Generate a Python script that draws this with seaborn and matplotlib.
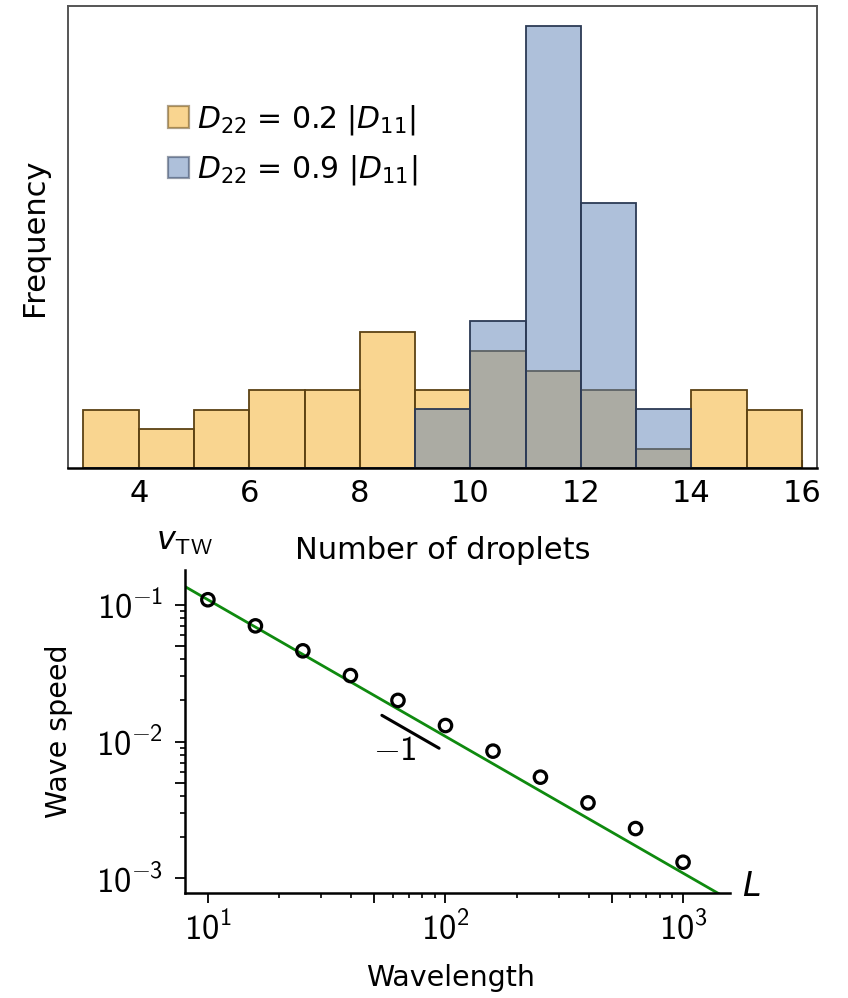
import numpy as np
import pandas as pd
import matplotlib
matplotlib.use("Agg")
import matplotlib.pyplot as plt
import matplotlib.ticker as mticker
from matplotlib.patches import Patch
import seaborn as sns

# --- histogram data: droplet-count bins and counts per run ---
bin_edges = list(range(3, 17))
low_counts = [3, 2, 3, 4, 4, 7, 4, 6, 5, 4, 1, 4, 3]          # bins 3..16
high_bins = [9, 10, 11, 12, 13]
high_counts = [2, 5, 15, 9, 2]
legend_labels = [r"$D_{22}$ = 0.2 $|D_{11}|$", r"$D_{22}$ = 0.9 $|D_{11}|$"]

# --- wave speed vs wavelength ---
wavelength = [10, 15.85, 25.1, 39.8, 63.1, 100, 158.5, 251, 398, 631, 1000]
wave_speed = [0.109, 0.0702, 0.0461, 0.0304, 0.0200, 0.0131,
              0.00851, 0.00549, 0.00356, 0.00231, 0.00131]
fit_coef = 1.09          # v = fit_coef / L
slope_ref = [54, 94]     # extent of the -1 slope marker
slope_coef = 0.84

sns.set_theme(style="ticks")
plt.rcParams["font.family"] = ["DejaVu Sans"]
plt.rcParams["text.color"] = "black"
plt.rcParams["axes.labelcolor"] = "black"
plt.rcParams["xtick.color"] = "black"
plt.rcParams["ytick.color"] = "black"
plt.rcParams["mathtext.fontset"] = "custom"
plt.rcParams["mathtext.rm"] = "cmss10"
plt.rcParams["mathtext.sf"] = "cmss10"
plt.rcParams["mathtext.it"] = "DejaVu Sans:italic"
plt.rcParams["mathtext.bf"] = "DejaVu Sans:bold"
plt.rcParams["mathtext.fallback"] = "cm"

fig = plt.figure(figsize=(8.48, 9.98), dpi=100)
ax1 = fig.add_axes([0.0802, 0.531, 0.8832, 0.463])
ax2 = fig.add_axes([0.218, 0.1052, 0.643, 0.3237])

c_low, c_high = "#F5AD23", "#5F83B7"
e_low, e_high = "#5c4214", "#2c3a55"

low_df = pd.DataFrame({"n": np.array(bin_edges[:-1]) + 0.5, "w": low_counts})
high_df = pd.DataFrame({"n": np.array(high_bins) + 0.5, "w": high_counts})

sns.histplot(data=low_df, x="n", weights="w", bins=bin_edges, stat="density",
             color=c_low, alpha=0.5, edgecolor=e_low, linewidth=1.3, ax=ax1)
sns.histplot(data=high_df, x="n", weights="w", bins=bin_edges, stat="density",
             color=c_high, alpha=0.5, edgecolor=e_high, linewidth=1.3, ax=ax1)

ax1.set_xlim(2.72, 16.27)
ax1.set_ylim(0, 0.4752)
ax1.set_yticks([])
ax1.set_xticks([4, 6, 8, 10, 12, 14, 16])
ax1.tick_params(axis="x", direction="in", length=6, width=1.5, color="black",
                labelsize=22, pad=8)
ax1.set_ylabel("Frequency", fontsize=22, labelpad=14)
ax1.set_xlabel("Number of droplets", fontsize=22, labelpad=20)
for side in ["top", "left", "right"]:
    ax1.spines[side].set_color("#555555")
    ax1.spines[side].set_linewidth(1.4)
ax1.spines["bottom"].set_color("black")
ax1.spines["bottom"].set_linewidth(1.8)

handles = [Patch(facecolor=c_low, edgecolor=e_low, alpha=0.5, linewidth=1.6),
           Patch(facecolor=c_high, edgecolor=e_high, alpha=0.5, linewidth=1.6)]
ax1.legend(handles, legend_labels, loc="upper left", bbox_to_anchor=(0.1335, 0.79),
           frameon=False, handlelength=0.72, handleheight=0.72, handletextpad=0.25,
           labelspacing=0.55, borderpad=0, borderaxespad=0,
           prop={"size": 21.5, "math_fontfamily": "dejavusans"})

# --- bottom panel ---
L_line = np.array([8.0, 1600.0])
ax2.plot(L_line, fit_coef / L_line, color="#0f8a0f", lw=2.0, zorder=2)
sns.scatterplot(x=wavelength, y=wave_speed, ax=ax2, marker="o", s=80,
                facecolor="none", edgecolor="black", linewidth=2.3, zorder=3)
L_ref = np.array(slope_ref, dtype=float)
ax2.plot(L_ref, slope_coef / L_ref, color="black", lw=2.2)
ax2.text(61, 0.0087, r"$-1$", fontsize=25, ha="center", va="center")

ax2.set_xscale("log")
ax2.set_yscale("log")
ax2.set_xlim(8.0, 1578)
ax2.set_ylim(0.00078, 0.18)

# long ticks at 1x and 5x each decade, short ones at the other multiples
x_long = [s * 10.0 ** k for k in (1, 2, 3) for s in (1, 5) if s * 10.0 ** k < 1578]
y_long = [s * 10.0 ** k for k in (-3, -2, -1) for s in (1, 5) if s * 10.0 ** k < 0.18]
x_short = [s * 10.0 ** k for k in (1, 2) for s in (2, 3, 4, 6, 7, 8, 9)]
y_short = [s * 10.0 ** k for k in (-3, -2) for s in (2, 3, 4, 6, 7, 8, 9)]
ax2.xaxis.set_major_locator(mticker.FixedLocator(x_long))
ax2.yaxis.set_major_locator(mticker.FixedLocator(y_long))
ax2.xaxis.set_minor_locator(mticker.FixedLocator(x_short))
ax2.yaxis.set_minor_locator(mticker.FixedLocator(y_short))


def decade_label(v, pos):
    e = np.log10(v)
    if abs(e - round(e)) > 1e-6:
        return ""
    return r"$10^{%d}$" % int(round(e))


ax2.xaxis.set_major_formatter(mticker.FuncFormatter(decade_label))
ax2.yaxis.set_major_formatter(mticker.FuncFormatter(decade_label))
ax2.xaxis.set_minor_formatter(mticker.NullFormatter())
ax2.yaxis.set_minor_formatter(mticker.NullFormatter())
ax2.tick_params(which="major", direction="out", length=7.5, width=1.3,
                labelsize=25, color="black")
ax2.tick_params(axis="x", which="major", pad=6)
ax2.tick_params(axis="y", which="major", pad=8)
ax2.tick_params(which="minor", direction="out", length=3.8, width=1.2, color="black")
sns.despine(ax=ax2)
for side in ["left", "bottom"]:
    ax2.spines[side].set_linewidth(1.8)
    ax2.spines[side].set_color("black")
ax2.set_xlabel("Wavelength", fontsize=20.5, labelpad=12)
ax2.xaxis.label.set_x(0.487)
ax2.set_ylabel("Wave speed", fontsize=20.5, labelpad=17)
ax2.text(0.0, 1.04, r"$v_{\mathrm{TW}}$", transform=ax2.transAxes, fontsize=23,
         ha="center", va="bottom")
ax2.text(1.022, 0.02, r"$L$", transform=ax2.transAxes, fontsize=24,
         ha="left", va="center", math_fontfamily="dejavusans")

fig.savefig("out.png", dpi=100)
